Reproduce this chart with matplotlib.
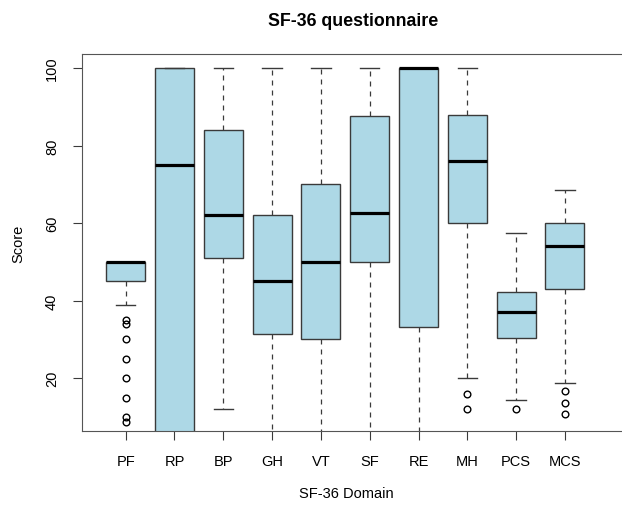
import matplotlib
matplotlib.use("Agg")
import matplotlib.pyplot as plt

############### Data ###############
domains = ["PF", "RP", "BP", "GH", "VT", "SF", "RE", "MH", "PCS", "MCS"]
whis_lo = [39, 0, 12, 0, 0, 0, 0, 20, 14.5, 18.8]
q1 = [45, 0, 51, 31.5, 30, 50, 33.3, 60, 30.4, 42.9]
median = [50, 75, 62, 45, 50, 62.5, 100, 76, 37.2, 54]
q3 = [50, 100, 84, 62, 70, 87.5, 100, 88, 42.2, 60]
whis_hi = [50, 100, 100, 100, 100, 100, 100, 100, 57.5, 68.5]
outliers = [
    [35, 34, 30, 25, 20, 15, 10, 8.7],
    [], [], [], [], [], [],
    [16, 12],
    [12],
    [16.6, 13.7, 10.8],
]

plt.rcParams['font.family'] = ['Liberation Sans', 'DejaVu Sans']

############### Build stats ###############
stats = []
for i, name in enumerate(domains):
    stats.append(dict(label=name, whislo=whis_lo[i], q1=q1[i], med=median[i],
                      q3=q3[i], whishi=whis_hi[i], fliers=outliers[i]))

############### Plot ###############
fig = plt.figure(figsize=(6.22, 5.06), dpi=100)
ax = fig.add_axes([82 / 622, 74 / 506, 561 / 622, 377 / 506])

edge = "#3a3a3a"
ax.bxp(stats, positions=range(1, 11), widths=0.8, patch_artist=True,
       boxprops=dict(facecolor="#ADD8E6", edgecolor=edge, linewidth=1),
       medianprops=dict(color="black", linewidth=2.3, solid_capstyle="butt"),
       whiskerprops=dict(color=edge, linestyle=(0, (4, 4)), linewidth=0.9),
       capprops=dict(color=edge, linewidth=1),
       capwidths=0.4,
       flierprops=dict(marker="o", markerfacecolor="none", markeredgecolor="black",
                       markersize=4.8, markeredgewidth=1))

ax.set_xlim(0.105, 11.6)
ax.set_ylim(6.4, 103.6)
ax.set_yticks([20, 40, 60, 80, 100])
ax.set_xticks(range(1, 11))
ax.set_xticklabels(domains, fontsize=10.5)
for lab in ax.get_yticklabels():
    lab.set_rotation(90)
    lab.set_va("center")
ax.tick_params(axis="y", labelsize=10.5, length=6.5, color=edge, pad=10)
ax.tick_params(axis="x", length=6.5, color=edge, pad=10)
for sp in ax.spines.values():
    sp.set_color("#555555")

ax.set_title("SF-36 questionnaire", fontsize=12.8, fontweight="bold", pad=21,
             x=0.483)
ax.set_xlabel("SF-36 Domain", fontsize=10.5)
ax.xaxis.set_label_coords(0.472, -0.165)
ax.xaxis.label.set_va("center")
ax.set_ylabel("Score", fontsize=10.5)
ax.yaxis.set_label_coords(-0.114, 0.5)
ax.yaxis.label.set_va("center")

fig.savefig("out.png", dpi=100)
